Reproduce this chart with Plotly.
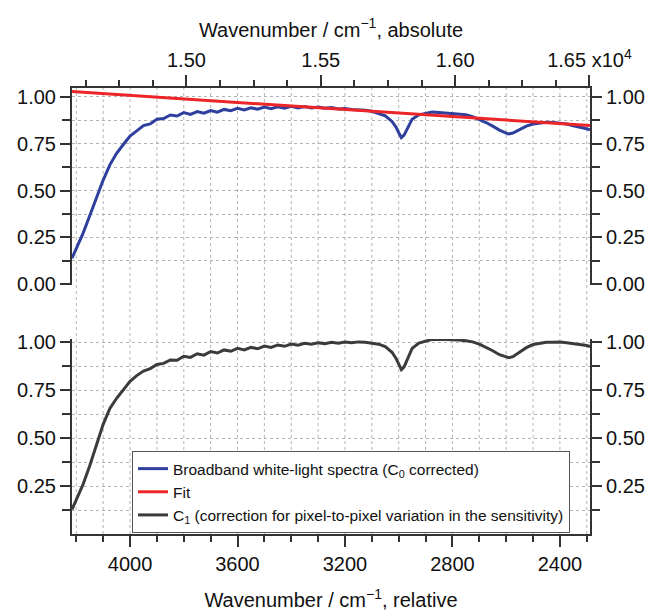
import plotly.graph_objects as go

# ---------------- data ----------------
LASER_WN = 18790  # cm-1, converts relative to absolute wavenumber (top axis)

wavenumber_rel = [
    4216, 4200, 4175, 4150, 4125, 4100, 4075, 4050, 4025, 4000,
    3975, 3950, 3925, 3900, 3875, 3850, 3825, 3800, 3775, 3750,
    3725, 3700, 3675, 3650, 3625, 3600, 3575, 3550, 3525, 3500,
    3475, 3450, 3425, 3400, 3375, 3350, 3325, 3300, 3275, 3250,
    3225, 3200, 3175, 3150, 3125, 3100, 3075, 3050, 3025, 3010,
    3000, 2990, 2980, 2970, 2960, 2950, 2925, 2900, 2875, 2850,
    2825, 2800, 2775, 2750, 2725, 2700, 2675, 2650, 2625, 2600,
    2590, 2575, 2550, 2525, 2500, 2475, 2450, 2425, 2400, 2375,
    2350, 2325, 2300, 2288,
]

broadband = [
    0.140, 0.190, 0.272, 0.366, 0.465, 0.556, 0.637, 0.698, 0.745, 0.790,
    0.818, 0.846, 0.855, 0.880, 0.883, 0.902, 0.897, 0.915, 0.905, 0.920,
    0.912, 0.926, 0.917, 0.932, 0.925, 0.938, 0.929, 0.941, 0.933, 0.944,
    0.936, 0.946, 0.938, 0.948, 0.940, 0.947, 0.940, 0.945, 0.938, 0.942,
    0.934, 0.937, 0.931, 0.931, 0.927, 0.922, 0.912, 0.898, 0.868, 0.838,
    0.808, 0.782, 0.795, 0.822, 0.855, 0.880, 0.903, 0.910, 0.918, 0.916,
    0.913, 0.911, 0.908, 0.903, 0.894, 0.880, 0.862, 0.843, 0.822, 0.806,
    0.801, 0.806, 0.825, 0.843, 0.854, 0.860, 0.863, 0.862, 0.860, 0.854,
    0.845, 0.838, 0.829, 0.823,
]

c1_correction = [
    0.128, 0.180, 0.258, 0.356, 0.470, 0.572, 0.655, 0.708, 0.752, 0.796,
    0.826, 0.850, 0.862, 0.884, 0.890, 0.908, 0.906, 0.927, 0.921, 0.940,
    0.933, 0.952, 0.944, 0.960, 0.953, 0.968, 0.960, 0.974, 0.966, 0.980,
    0.973, 0.986, 0.979, 0.991, 0.985, 0.995, 0.990, 0.997, 0.993, 1.000,
    0.995, 1.001, 0.997, 1.002, 1.000, 0.996, 0.990, 0.978, 0.948, 0.916,
    0.884, 0.857, 0.872, 0.903, 0.940, 0.968, 0.996, 1.005, 1.015, 1.016,
    1.015, 1.015, 1.012, 1.008, 1.002, 0.990, 0.975, 0.956, 0.935, 0.922,
    0.920, 0.925, 0.948, 0.972, 0.988, 0.995, 1.000, 1.000, 1.001, 0.998,
    0.994, 0.990, 0.983, 0.977,
]

fit_wn = [4216, 2288]
fit_values = [1.027, 0.846]

x_range_rel = [4216, 2288]
top_tickvals = [15000, 15500, 16000, 16500]
top_ticktext = ["1.50", "1.55", "1.60", "1.65 x10<sup>4</sup>"]
top_y_tickvals = [0.0, 0.25, 0.5, 0.75, 1.0]
bottom_y_tickvals = [0.25, 0.5, 0.75, 1.0]
y_minor_tickvals = [0.125, 0.375, 0.625, 0.875]
legend_names = [
    "Broadband white-light spectra (C<sub>0</sub> corrected)",
    "Fit",
    "C<sub>1</sub> (correction for pixel-to-pixel variation in the sensitivity)",
]

# ---------------- styling ----------------
FONT = "Arial, Liberation Sans, Helvetica, sans-serif"
BLUE = "#2f3f9e"
RED = "#ee2528"
DARK = "#3b3b3b"
AXIS = "#333333"
GRID = "#b4b4b4"

abs_wn = [LASER_WN - w for w in wavenumber_rel]
abs_fit = [LASER_WN - w for w in fit_wn]
abs_range = [LASER_WN - x_range_rel[0], LASER_WN - x_range_rel[1]]

fig = go.Figure()
fig.add_trace(go.Scatter(x=abs_wn, y=broadband, mode="lines", name=legend_names[0],
                         line=dict(color=BLUE, width=3), xaxis="x2", yaxis="y"))
fig.add_trace(go.Scatter(x=abs_fit, y=fit_values, mode="lines", name=legend_names[1],
                         line=dict(color=RED, width=3), xaxis="x2", yaxis="y"))
fig.add_trace(go.Scatter(x=wavenumber_rel, y=c1_correction, mode="lines", name=legend_names[2],
                         line=dict(color=DARK, width=3), xaxis="x", yaxis="y2"))
# invisible helpers so the right-hand mirror axes are drawn
fig.add_trace(go.Scatter(x=abs_wn[:1], y=broadband[:1], mode="markers", marker=dict(opacity=0),
                         showlegend=False, hoverinfo="skip", xaxis="x2", yaxis="y3"))
fig.add_trace(go.Scatter(x=wavenumber_rel[:1], y=c1_correction[:1], mode="markers",
                         marker=dict(opacity=0), showlegend=False, hoverinfo="skip",
                         xaxis="x", yaxis="y4"))

# vertical grid lines through both panels (every 100 cm-1 of the relative axis)
for g in range(4200, 2200, -100):
    fig.add_shape(type="line", xref="x", yref="paper", x0=g, x1=g, y0=0, y1=1,
                  line=dict(color=GRID, width=1, dash="dot"), layer="below")

tickfont = dict(family=FONT, size=20, color="#111111")
titlefont = dict(family=FONT, size=20, color="#111111")

top_dom = [0.5583, 1.0]
bot_dom = [0.0, 0.4372]
top_yrange = [-0.003, 1.046]
bot_yrange = [0.0, 1.017]

common_y = dict(showline=True, linecolor=AXIS, linewidth=2, ticks="outside", ticklen=10,
                tickwidth=1.5, tickcolor=AXIS, tickfont=tickfont, zeroline=False,
                tickformat=".2f", tickmode="array", automargin=False)

fig.update_layout(
    width=658, height=612,
    # the page body adds an 8 px offset, so margins are shifted to compensate
    margin=dict(l=64, r=76, t=80, b=86, autoexpand=False),
    paper_bgcolor="white", plot_bgcolor="white",
    font=dict(family=FONT, color="#111111"),
    showlegend=True,
    legend=dict(x=0.1158, y=0.186, xanchor="left", yanchor="top",
                bgcolor="white", bordercolor="#555555", borderwidth=1,
                font=dict(family=FONT, size=15.5, color="#111111"),
                tracegroupgap=0, itemwidth=30),
    xaxis=dict(domain=[0, 1], anchor="y2", side="bottom", range=x_range_rel,
               tick0=0, dtick=400, ticks="outside", ticklen=11, tickwidth=1.5,
               tickcolor=AXIS, showline=True, linecolor=AXIS, linewidth=2,
               showgrid=False, zeroline=False, tickfont=tickfont, automargin=False,
               minor=dict(dtick=100, ticks="outside", ticklen=6, tickwidth=1.5,
                          tickcolor=AXIS, showgrid=False),
               title=dict(text="Wavenumber / cm<sup>\u22121</sup>, relative",
                          font=titlefont, standoff=19)),
    xaxis2=dict(domain=[0, 1], anchor="y", side="top", range=abs_range,
                tickmode="array", tickvals=top_tickvals, ticktext=top_ticktext,
                ticks="outside", ticklen=11, tickwidth=1.5, tickcolor=AXIS,
                showline=True, linecolor=AXIS, linewidth=2, showgrid=False,
                zeroline=False, tickfont=tickfont, automargin=False,
                minor=dict(tick0=15000, dtick=125, ticks="outside", ticklen=6,
                           tickwidth=1.5, tickcolor=AXIS, showgrid=False),
                title=dict(text="Wavenumber / cm<sup>\u22121</sup>, absolute",
                           font=titlefont, standoff=3)),
    yaxis=dict(domain=top_dom, anchor="x2", range=top_yrange, tickvals=top_y_tickvals,
               showgrid=True, gridcolor=GRID, gridwidth=1, griddash="dot",
               minor=dict(tickvals=y_minor_tickvals, ticks="outside", ticklen=8,
                          tickwidth=1.5, tickcolor=AXIS, showgrid=True,
                          gridcolor=GRID, griddash="dot"),
               **common_y),
    yaxis3=dict(overlaying="y", anchor="x2", side="right", range=top_yrange,
                tickvals=top_y_tickvals, showgrid=False,
                minor=dict(tickvals=y_minor_tickvals, ticks="outside", ticklen=8,
                           tickwidth=1.5, tickcolor=AXIS, showgrid=False),
                **common_y),
    yaxis2=dict(domain=bot_dom, anchor="x", range=bot_yrange, tickvals=bottom_y_tickvals,
                showgrid=True, gridcolor=GRID, gridwidth=1, griddash="dot",
                minor=dict(tickvals=y_minor_tickvals, ticks="outside", ticklen=8,
                           tickwidth=1.5, tickcolor=AXIS, showgrid=True,
                           gridcolor=GRID, griddash="dot"),
                **common_y),
    yaxis4=dict(overlaying="y2", anchor="x", side="right", range=bot_yrange,
                tickvals=bottom_y_tickvals, showgrid=False,
                minor=dict(tickvals=y_minor_tickvals, ticks="outside", ticklen=8,
                           tickwidth=1.5, tickcolor=AXIS, showgrid=False),
                **common_y),
)

fig.write_html("out.html")
